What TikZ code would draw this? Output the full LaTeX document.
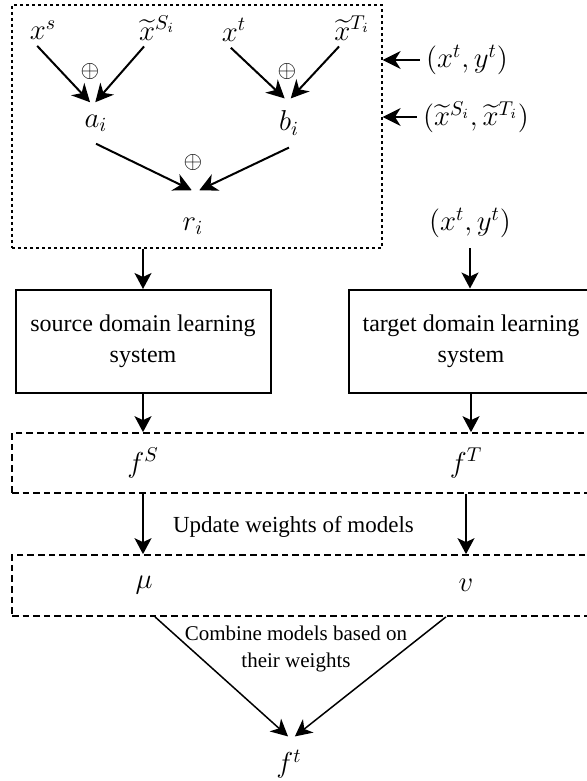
\RequirePackage{fix-cm}
\documentclass[tikz,border=0pt]{standalone}
\usepackage[no-math]{fontspec}
\setmainfont{Liberation Serif}
\usepackage{amsmath}
\usepackage{amssymb}
\usetikzlibrary{arrows.meta}

\tikzset{
	mlabel/.style={inner sep=3pt, font=\fontsize{14.4}{17}\selectfont},
	opsym/.style={inner sep=0pt, font=\fontsize{12}{14}\selectfont},
	sysbox/.style={draw, line width=1pt, minimum height=51.5pt, align=center, font=\fontsize{12}{15.5}\selectfont},
	modbox/.style={draw, dash pattern=on 3.3pt off 2pt, line width=0.85pt, minimum width=295pt},
	arr/.style={-{Stealth[length=9pt,width=9pt,inset=2.8pt]}, line width=1pt},
	varr/.style={-{Stealth[length=8pt,width=8.5pt,inset=2pt]}, line width=0.85pt},
	darr/.style={-{Stealth[length=8.5pt,width=8.5pt,inset=2.5pt]}, line width=0.75pt}
}

\begin{document}
\begin{tikzpicture}[x=0.5pt,y=0.5pt,yscale=-1,xscale=1]
	\useasboundingbox (0,0) rectangle (586,781);
	% samples box
	\node [draw, dash pattern=on 1.7pt off 1.3pt, line width=0.6pt, minimum width=185pt, minimum height=121.5pt] (inbox) at (197,126.5) {};
	\node [mlabel] (xs) at (43,30) {$x^s$};
	\node [mlabel] (xsi) at (157,28) {$\widetilde{x}^{S_i}$};
	\node [mlabel] (xt) at (234,30) {$x^t$};
	\node [mlabel] (xti) at (352,28) {$\widetilde{x}^{T_i}$};
	\node [mlabel, inner ysep=6pt] (ai) at (96,123) {$a_i$};
	\node [mlabel, inner ysep=6pt] (bi) at (289,123) {$b_i$};
	\node [mlabel, inner ysep=13.5pt] (ri) at (193,226) {$r_i$};
	\node [opsym] (op1) at (90,72) {$\oplus$};
	\node [opsym] (op2) at (287,72) {$\oplus$};
	\node [opsym] (op3) at (193,162) {$\oplus$};
	\draw [arr] (xs.250) -- (ai.106);
	\draw [arr] (xsi.235) -- (ai.92);
	\draw [arr] (xt.260) -- (bi.100);
	\draw [arr] (xti.235) -- (bi.86);
	\draw [arr] (ai.south) -- (ri.92);
	\draw [arr] (bi.south) -- (ri.80);
	% inputs from outside
	\node [mlabel] (lab1) at (467,60) {$(x^t,y^t)$};
	\node [mlabel] (lab2) at (476,117) {$(\widetilde{x}^{S_i},\widetilde{x}^{T_i})$};
	\node [mlabel] (lab3) at (470,223) {$(x^t,y^t)$};
	\draw [arr] (lab1.west) -- (inbox.east |- lab1);
	\draw [arr] (lab2.west) -- (inbox.east |- lab2);
	% learning systems
	\node [sysbox, minimum width=127.5pt] (srcbox) at (143,341.5) {source domain learning\\system};
	\node [sysbox, minimum width=122pt] (tgtbox) at (471,341) {target domain learning\\system};
	\draw [varr] (srcbox.north |- inbox.south) -- (srcbox.north);
	\draw [varr, shorten <=2pt] (lab3.south) -- (lab3.south |- tgtbox.north);
	% models and weights
	\node [modbox, minimum height=30pt] (fbox) at (307,463) {};
	\node [mlabel] (fS) at (143,463) {$f^S$};
	\node [mlabel] (fT) at (466,463) {$f^T$};
	\draw [varr] (srcbox.south) -- (srcbox.south |- fbox.north);
	\draw [varr] (tgtbox.south) -- (tgtbox.south |- fbox.north);
	\node [font=\fontsize{11.5}{13}\selectfont] (upd) at (293.5,527) {Update weights of models};
	\node [modbox, minimum height=30.5pt] (wbox) at (307,585.5) {};
	\node [mlabel] (mu) at (144,585) {$\mu$};
	\node [mlabel] (v) at (466,585) {$v$};
	\draw [varr] (fS |- fbox.south) -- (fS |- wbox.north);
	\draw [varr] (fT |- fbox.south) -- (fT |- wbox.north);
	% combined model
	\node [align=center, font=\fontsize{10.5}{13.5}\selectfont] (comb) at (296,648.5) {Combine models based on\\their weights};
	\node [mlabel, inner ysep=6.5pt] (ft) at (289,764) {$f^t$};
	\draw [darr] ([xshift=5.5pt]mu |- wbox.south) -- (ft.92);
	\draw [darr] ([xshift=-10pt]v |- wbox.south) -- (ft.78);
\end{tikzpicture}
\end{document}
